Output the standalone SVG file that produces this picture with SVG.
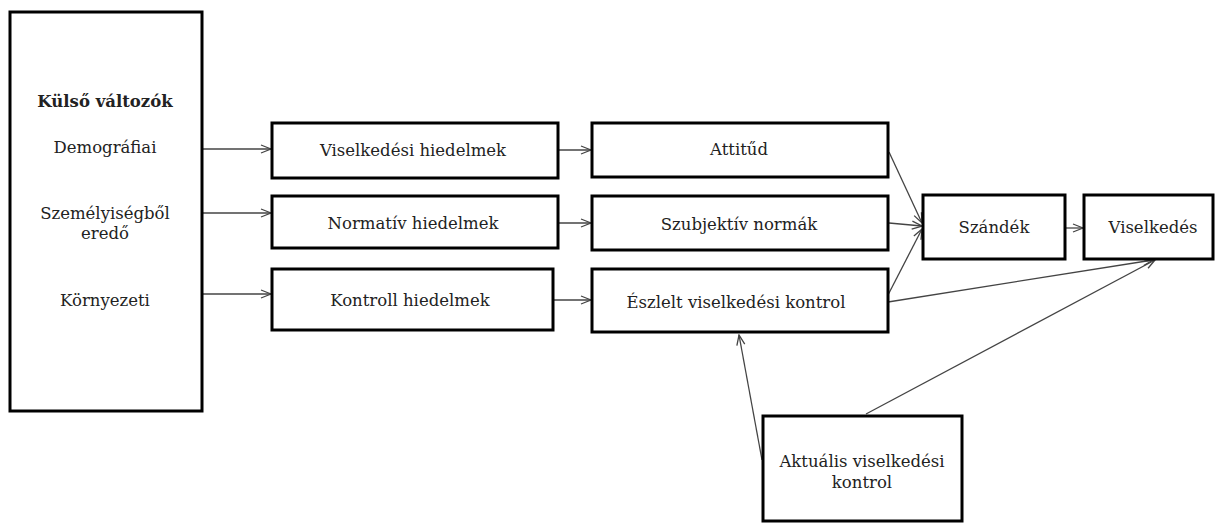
<svg xmlns="http://www.w3.org/2000/svg" width="1215" height="525" viewBox="0 0 1215 525">
<defs>
<marker id="arr" markerUnits="userSpaceOnUse" markerWidth="12" markerHeight="10" refX="11" refY="5" orient="auto">
<path d="M1,1 L11,5 L1,9" fill="none" stroke="#444" stroke-width="1.3"/>
</marker>
<style>
.box{fill:#fff;stroke:#000;stroke-width:3}
.t{font-family:"DejaVu Serif","Liberation Serif",serif;font-size:16.5px;fill:#222;text-anchor:middle}
.b{font-weight:bold}
.c{stroke:#444;stroke-width:1.3;fill:none;marker-end:url(#arr)}
</style>
</defs>
<g id="connectors">
<line class="c" x1="202" y1="149" x2="271" y2="149"/>
<line class="c" x1="202" y1="213" x2="271" y2="213"/>
<line class="c" x1="202" y1="294" x2="271" y2="294"/>
<line class="c" x1="558" y1="150" x2="591" y2="150"/>
<line class="c" x1="558" y1="223" x2="591" y2="223"/>
<line class="c" x1="553" y1="300" x2="591" y2="300"/>
<line class="c" x1="889" y1="152" x2="922" y2="223"/>
<line class="c" x1="889" y1="223" x2="922" y2="226"/>
<line class="c" x1="888" y1="295" x2="922" y2="229"/>
<line class="c" x1="888" y1="302" x2="1153" y2="260"/>
<line class="c" x1="866" y1="414" x2="1155" y2="260"/>
<line class="c" x1="762" y1="460" x2="739" y2="335"/>
<line class="c" x1="1065" y1="228" x2="1083" y2="228"/>
</g>
<g id="kulso">
<rect class="box" x="10" y="12" width="192" height="399"/>
<text class="t b" x="105" y="107">Külső változók</text>
<text class="t" x="105" y="153">Demográfiai</text>
<text class="t" x="105" y="219">Személyiségből</text>
<text class="t" x="105" y="239">eredő</text>
<text class="t" x="105" y="306">Környezeti</text>
</g>
<g id="viselkedesi-hiedelmek">
<rect class="box" x="272" y="123" width="286" height="55"/>
<text class="t" x="413" y="156">Viselkedési hiedelmek</text>
</g>
<g id="normativ-hiedelmek">
<rect class="box" x="272" y="196" width="286" height="52"/>
<text class="t" x="413" y="229">Normatív hiedelmek</text>
</g>
<g id="kontroll-hiedelmek">
<rect class="box" x="272" y="269" width="281" height="61"/>
<text class="t" x="410" y="306">Kontroll hiedelmek</text>
</g>
<g id="attitud">
<rect class="box" x="592" y="123" width="296" height="54"/>
<text class="t" x="739" y="155">Attitűd</text>
</g>
<g id="szubjektiv-normak">
<rect class="box" x="592" y="196" width="296" height="54"/>
<text class="t" x="739" y="230">Szubjektív normák</text>
</g>
<g id="eszlelt">
<rect class="box" x="592" y="269" width="296" height="63"/>
<text class="t" x="736" y="308">Észlelt viselkedési kontrol</text>
</g>
<g id="szandek">
<rect class="box" x="923" y="195" width="142" height="64"/>
<text class="t" x="994" y="233">Szándék</text>
</g>
<g id="viselkedes">
<rect class="box" x="1084" y="195" width="129" height="64"/>
<text class="t" x="1153" y="233">Viselkedés</text>
</g>
<g id="aktualis">
<rect class="box" x="763" y="416" width="199" height="105"/>
<text class="t" x="862" y="467">Aktuális viselkedési</text>
<text class="t" x="862" y="488">kontrol</text>
</g>
</svg>
